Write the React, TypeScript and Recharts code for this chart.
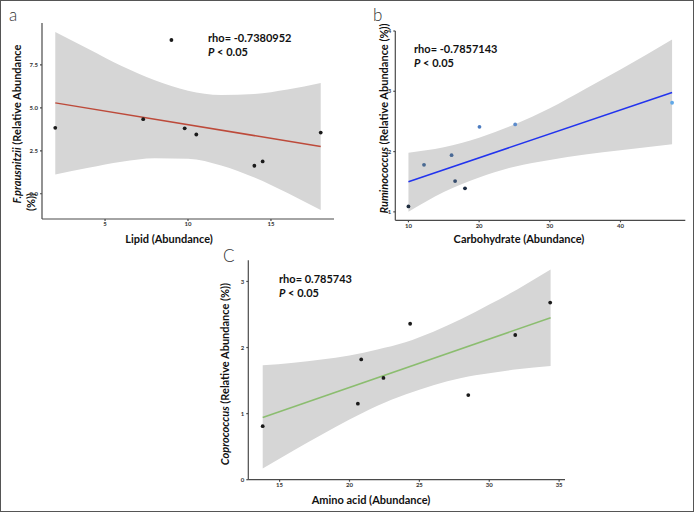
import React from 'react';
import { ComposedChart, Area, Line, Scatter, XAxis, YAxis, Cell, Label } from 'recharts';

// a: lipid vs F. prausnitzii
const lipidX = [2, 7.3, 9, 9.8, 10.5, 14, 14.5, 18];
const prausY = [3.84, 4.34, 8.95, 3.81, 3.45, 1.63, 1.88, 3.56];
const lipidBandX = [2, 4, 6, 8, 10, 12, 14, 16, 18];
const lipidBandLo = [1.12, 1.52, 1.87, 2.07, 2.04, 1.65, 0.95, 0.05, -0.95];
const lipidBandHi = [9.42, 8.42, 7.43, 6.6, 6.0, 5.75, 5.81, 6.07, 6.45];
const lipidFitX = [2, 18];
const lipidFitY = [5.29, 2.75];
const lipidTicks = [5, 10, 15];
const prausTicks = [0, 2.5, 5, 7.5];

// b: carbohydrate vs Ruminococcus
const carbX = [10, 12.2, 16.1, 16.6, 18, 20.05, 25.1, 47.3];
const rumY = [1.09, 1.78, 1.94, 1.51, 1.39, 2.41, 2.45, 2.81];
const rumColors = ['#1f2d3f', '#4a6a92', '#4a6a96', '#364d6e', '#1d2b42', '#4d7cc0', '#5c8bcb', '#62a9e8'];
const carbBandX = [10, 15, 20, 25, 30, 35, 40, 47.3];
const carbBandLo = [1.0, 1.33, 1.57, 1.75, 1.86, 1.95, 2.02, 2.12];
const carbBandHi = [1.98, 2.07, 2.23, 2.45, 2.72, 3.04, 3.36, 3.86];
const carbFitX = [10, 47.3];
const carbFitY = [1.5, 2.98];
const carbTicks = [10, 20, 30, 40];
const rumTicks = [1, 2, 3, 4];

// c: amino acid vs Coprococcus
const aminoX = [13.79, 20.6, 20.84, 22.43, 24.34, 28.5, 31.86, 34.36];
const coproY = [0.81, 1.15, 1.82, 1.54, 2.36, 1.28, 2.19, 2.68];
const aminoBandX = [13.79, 16, 18, 20, 22, 24, 26, 28, 30, 32, 34.39];
const aminoBandLo = [0.17, 0.44, 0.68, 0.91, 1.12, 1.29, 1.43, 1.54, 1.61, 1.67, 1.72];
const aminoBandHi = [1.73, 1.77, 1.82, 1.88, 1.97, 2.08, 2.24, 2.43, 2.65, 2.88, 3.18];
const aminoFitX = [13.79, 34.39];
const aminoFitY = [0.94, 2.45];
const aminoTicks = [15, 20, 25, 30, 35];
const coproTicks = [0, 1, 2, 3];

const FONT = 'Lato, "Open Sans", sans-serif';
const AXIS = '#4a4a4a';

const zipPts = (xs: number[], ys: number[]) => xs.map((x, i) => ({ x, y: ys[i] }));
const zipBand = (xs: number[], lo: number[], hi: number[]) => xs.map((x, i) => ({ x, range: [lo[i], hi[i]] }));

type TitleLine = { italic?: string; rest: string; cx: number; cy: number };

interface PanelProps {
  left: number; top: number; width: number; height: number;
  marginTop: number; marginRight: number; yAxisWidth: number; xAxisHeight: number;
  xDomain: [number, number]; yDomain: [number, number];
  xTicks: number[]; yTicks: number[]; yFmt?: (v: number) => string;
  band: any[]; fit: any[]; points: any[]; pointColors?: string[];
  lineColor: string;
  xTitle: string; xTitlePos: [number, number];
  yTitle: TitleLine[];
}

const Panel: React.FC<PanelProps> = (p) => {
  const tick = { fontSize: 6, fill: '#333', fontFamily: FONT, fontWeight: 700 };
  return (
    <div style={{ position: 'absolute', left: p.left, top: p.top }}>
      <ComposedChart
        width={p.width}
        height={p.height}
        data={p.band}
        margin={{ top: p.marginTop, right: p.marginRight, bottom: 0, left: 0 }}
      >
        <XAxis
          type="number"
          dataKey="x"
          domain={p.xDomain}
          allowDataOverflow
          ticks={p.xTicks}
          height={p.xAxisHeight}
          stroke={AXIS}
          strokeWidth={1.2}
          tickSize={2}
          tickMargin={1}
          tick={tick}
        >
          <Label
            content={() => (
              <text x={p.xTitlePos[0]} y={p.xTitlePos[1]} textAnchor="middle" dominantBaseline="central"
                fontFamily={FONT} fontWeight={700} fontSize={11} fill="#111">{p.xTitle}</text>
            )}
          />
        </XAxis>
        <YAxis
          type="number"
          domain={p.yDomain}
          allowDataOverflow
          ticks={p.yTicks}
          tickFormatter={p.yFmt}
          width={p.yAxisWidth}
          stroke={AXIS}
          strokeWidth={1.2}
          tickSize={2}
          tickMargin={2}
          tick={tick}
        >
          <Label
            content={() => (
              <g>
                {p.yTitle.map((l, i) => (
                  <text key={i} transform={`translate(${l.cx},${l.cy}) rotate(-90)`} textAnchor="middle"
                    dominantBaseline="central" fontFamily={FONT} fontWeight={700} fontSize={11} fill="#111">
                    {l.italic ? <tspan fontStyle="italic">{l.italic}</tspan> : null}
                    <tspan>{l.rest}</tspan>
                  </text>
                ))}
              </g>
            )}
          />
        </YAxis>
        <Area type="monotone" dataKey="range" stroke="none" fill="#d6d6d6" fillOpacity={1} isAnimationActive={false} />
        <Line data={p.fit} dataKey="y" type="linear" stroke={p.lineColor} strokeWidth={1.5} dot={false} isAnimationActive={false} />
        <Scatter
          data={p.points}
          dataKey="y"
          fill="#1a1a1a"
          isAnimationActive={false}
          shape={(s: any) => <circle cx={s.cx} cy={s.cy} r={1.9} fill={s.fill} />}
        >
          {p.pointColors ? p.points.map((_, i) => <Cell key={i} fill={p.pointColors![i]} />) : null}
        </Scatter>
      </ComposedChart>
    </div>
  );
};

const Note: React.FC<{ left: number; top: number; rho: string }> = ({ left, top, rho }) => (
  <div style={{ position: 'absolute', left, top, fontFamily: FONT, fontWeight: 700, fontSize: 11, lineHeight: '14px', color: '#111', whiteSpace: 'nowrap' }}>
    <div>rho= {rho}</div>
    <div><i>P</i> &lt; 0.05</div>
  </div>
);

const Letter: React.FC<{ left: number; top: number; text: string }> = ({ left, top, text }) => (
  <div style={{ position: 'absolute', left, top, fontFamily: FONT, fontWeight: 300, fontSize: 17, lineHeight: '20px', color: '#333' }}>{text}</div>
);

export default function App() {
  return (
    <div style={{ position: 'absolute', left: 0, top: 0, width: 694, height: 512, background: '#fff', border: '1px solid #555', boxSizing: 'border-box', overflow: 'hidden' }}>
      <Panel
        left={0} top={0} width={340} height={250}
        marginTop={22} marginRight={7} yAxisWidth={41} xAxisHeight={32}
        xDomain={[1.2, 18.8]} yDomain={[-1.47, 9.94]}
        xTicks={lipidTicks} yTicks={prausTicks} yFmt={(v) => v.toFixed(1)}
        band={zipBand(lipidBandX, lipidBandLo, lipidBandHi)}
        fit={zipPts(lipidFitX, lipidFitY)}
        points={zipPts(lipidX, prausY)}
        lineColor="#bd4a3a"
        xTitle="Lipid (Abundance)" xTitlePos={[168, 237]}
        yTitle={[
          { italic: 'F.prausnitzii', rest: ' (Relative Abundance', cx: 15, cy: 123 },
          { rest: '(%))', cx: 28.5, cy: 201 },
        ]}
      />
      <Panel
        left={347} top={0} width={340} height={250}
        marginTop={30} marginRight={2.7} yAxisWidth={47.3} xAxisHeight={30.7}
        xDomain={[8.14, 49.17]} yDomain={[0.86, 4.0]}
        xTicks={carbTicks} yTicks={rumTicks}
        band={zipBand(carbBandX, carbBandLo, carbBandHi)}
        fit={zipPts(carbFitX, carbFitY)}
        points={zipPts(carbX, rumY)}
        pointColors={rumColors}
        lineColor="#2233ee"
        xTitle="Carbohydrate (Abundance)" xTitlePos={[171, 237.5]}
        yTitle={[{ italic: 'Ruminococcus', rest: ' (Relative Abundance (%))', cx: 34.7, cy: 117.5 }]}
      />
      <Panel
        left={200} top={252} width={370} height={258}
        marginTop={7.3} marginRight={6} yAxisWidth={47.3} xAxisHeight={31.3}
        xDomain={[12.76, 35.42]} yDomain={[0, 3.32]}
        xTicks={aminoTicks} yTicks={coproTicks}
        band={zipBand(aminoBandX, aminoBandLo, aminoBandHi)}
        fit={zipPts(aminoFitX, aminoFitY)}
        points={zipPts(aminoX, coproY)}
        lineColor="#8bbd6f"
        xTitle="Amino acid (Abundance)" xTitlePos={[170, 246]}
        yTitle={[{ italic: 'Coprococcus', rest: ' (Relative Abundance (%))', cx: 23.3, cy: 121 }]}
      />
      <Note left={207} top={30} rho="-0.7380952" />
      <Note left={413} top={41} rho="-0.7857143" />
      <Note left={278} top={271} rho="0.785743" />
      <Letter left={8} top={4} text="a" />
      <Letter left={372} top={4} text="b" />
      <Letter left={222} top={245} text="C" />
    </div>
  );
}
